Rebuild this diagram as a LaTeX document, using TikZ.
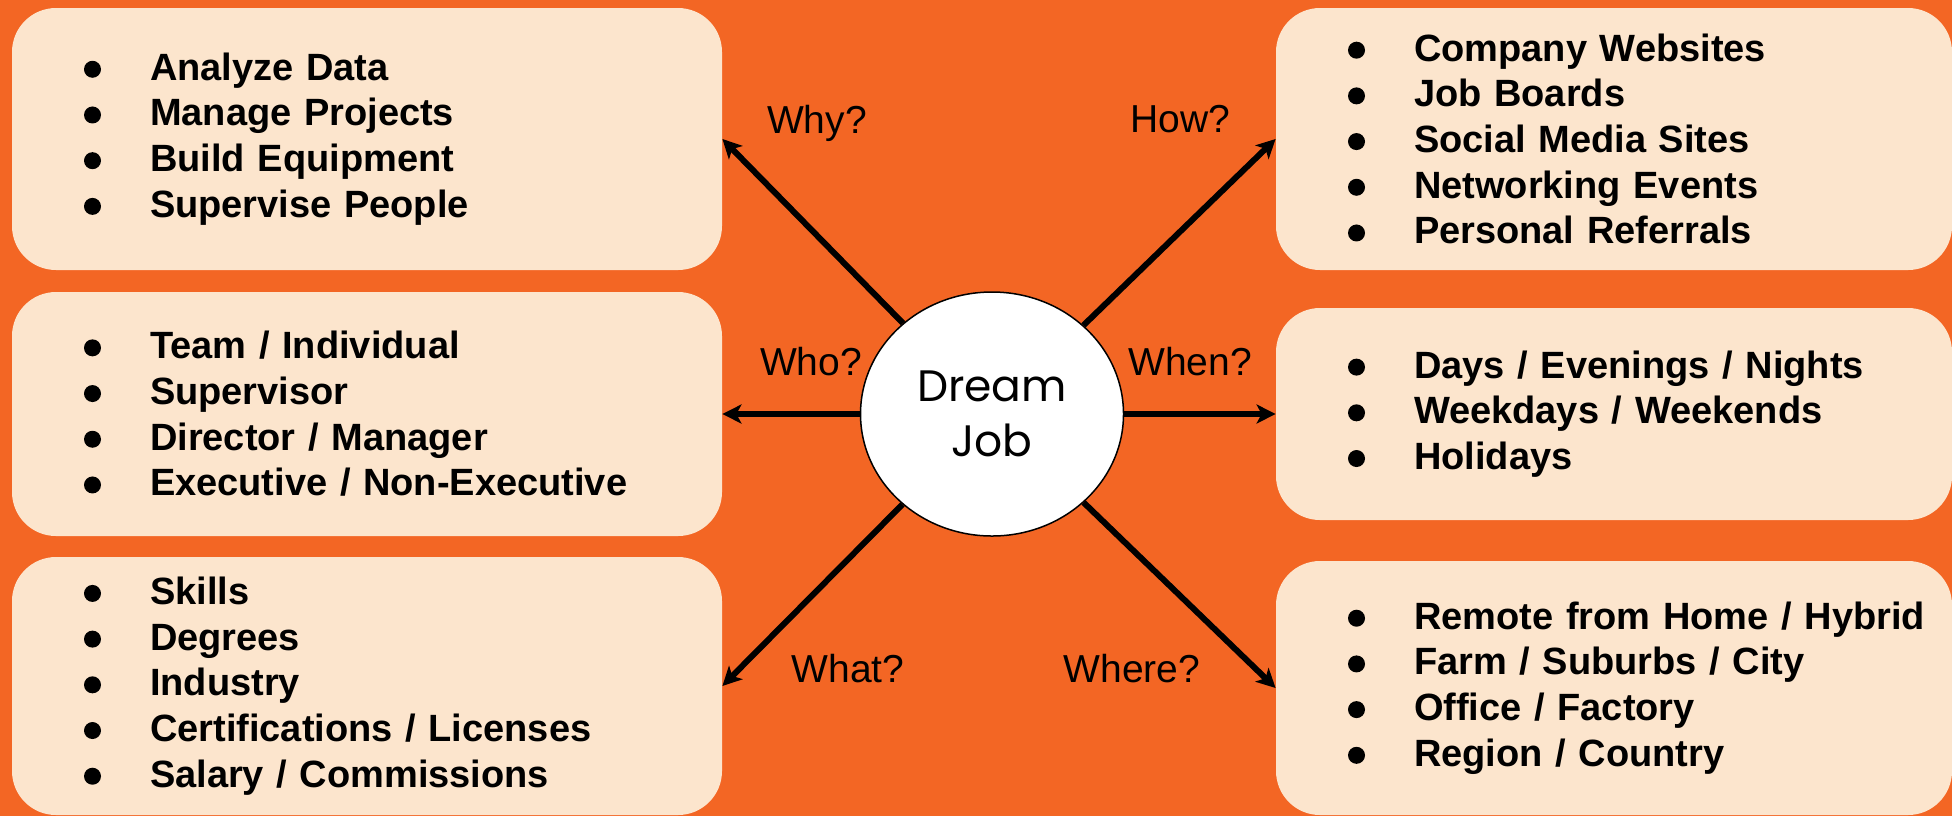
\documentclass[tikz,border=0pt]{standalone}
\usepackage{fontspec}
\usepackage{tikz}
\usetikzlibrary{shapes.geometric,arrows.meta}
\setmainfont{Liberation Sans}
\newfontfamily\dreamfont{Poppins}
\newlength{\bulletgap}
\newlength{\bulletradius}
\newlength{\leftboxtext}
\newlength{\rightboxtext}
\setlength{\bulletgap}{33pt}
\setlength{\bulletradius}{4.25pt}
\setlength{\leftboxtext}{283pt}
\setlength{\rightboxtext}{266pt}
\definecolor{backgroundcolor}{RGB}{243,102,36}
\definecolor{answerboxcolor}{RGB}{252,229,205}
\newcommand{\answeritem}[1]{\mbox{\makebox[\bulletgap][l]{\tikz[baseline=0pt]\fill (\bulletradius,5.5pt) circle (\bulletradius);}#1}}
\tikzstyle{answerbox} = [rectangle, rounded corners=22pt, fill=answerboxcolor, inner xsep=36pt, inner ysep=0pt, align=left, font=\fontsize{19}{22.85}\selectfont\bfseries]
\tikzstyle{leftbox} = [answerbox, text width=\leftboxtext]
\tikzstyle{rightbox} = [answerbox, text width=\rightboxtext]
\tikzstyle{question} = [anchor=base, inner sep=0, font=\fontsize{19.5}{19.5}\selectfont]
\tikzstyle{askarrow} = [line width=3pt, -{Stealth[length=9.5pt, width=9.5pt, inset=2.5pt]}]

\begin{document}
\begin{tikzpicture}[x=0.5pt, y=-0.5pt]
	\fill[backgroundcolor] (0,0) rectangle (1952,816);
	\useasboundingbox (0,0) rectangle (1952,816);
	
	% left column
	\node[leftbox, minimum height=131pt] (whybox) at (367,139) {
		\answeritem{Analyze Data}\\
		\answeritem{Manage Projects}\\
		\answeritem{Build Equipment}\\
		\answeritem{Supervise People}};
	\node[leftbox, minimum height=122pt] (whobox) at (367,414) {
		\answeritem{Team / Individual}\\
		\answeritem{Supervisor}\\
		\answeritem{Director / Manager}\\
		\answeritem{Executive / Non-Executive}};
	\node[leftbox, minimum height=129pt] (whatbox) at (367,686) {
		\answeritem{Skills}\\
		\answeritem{Degrees}\\
		\answeritem{Industry}\\
		\answeritem{Certifications / Licenses}\\
		\answeritem{Salary / Commissions}};
	
	% right column
	\node[rightbox, minimum height=131pt] (howbox) at (1614,139) {
		\answeritem{Company Websites}\\
		\answeritem{Job Boards}\\
		\answeritem{Social Media Sites}\\
		\answeritem{Networking Events}\\
		\answeritem{Personal Referrals}};
	\node[rightbox, minimum height=106pt] (whenbox) at (1614,414) {
		\answeritem{Days / Evenings / Nights}\\
		\answeritem{Weekdays / Weekends}\\
		\answeritem{Holidays}};
	\node[rightbox, minimum height=127pt] (wherebox) at (1614,688) {
		\answeritem{Remote from Home / Hybrid}\\
		\answeritem{Farm / Suburbs / City}\\
		\answeritem{Office / Factory}\\
		\answeritem{Region / Country}};
	
	\node[ellipse, draw, line width=0.75pt, fill=white, inner sep=0, minimum width=131.5pt, minimum height=122pt, align=center, font=\dreamfont\fontsize{22}{27.5}\selectfont] (dream) at (992,414) {Dream\\Job};
	
	\draw[askarrow] (dream) -- (whybox.east);
	\draw[askarrow] (dream) -- (whobox.east);
	\draw[askarrow] (dream) -- (whatbox.east);
	\draw[askarrow] (dream) -- (howbox.west);
	\draw[askarrow] (dream) -- (whenbox.west);
	\draw[askarrow] (dream) -- (wherebox.west);
	
	\node[question] (whylabel) at (817,133) {Why?};
	\node[question] (wholabel) at (811,375) {Who?};
	\node[question] (whatlabel) at (848,682) {What?};
	\node[question] (howlabel) at (1180,132) {How?};
	\node[question] (whenlabel) at (1190,375) {When?};
	\node[question] (wherelabel) at (1132,682) {Where?};
	
\end{tikzpicture}
\end{document}
